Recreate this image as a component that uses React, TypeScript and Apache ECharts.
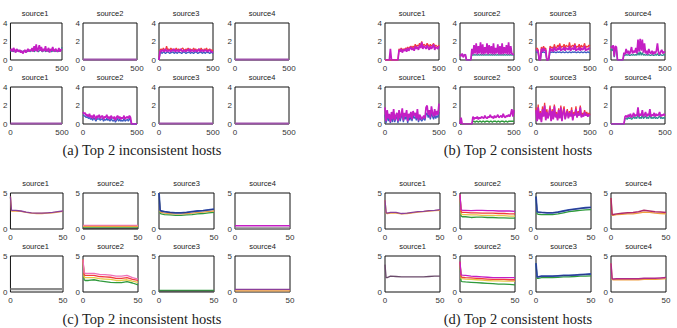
import React, { useEffect, useRef } from "react";
import * as echarts from "echarts";

// ---------- x sample positions ----------
const xs500 = [0, 10, 20, 30, 40, 50, 60, 70, 80, 90, 100, 110, 120, 130, 140, 150, 160, 170, 180, 190, 200, 210, 220, 230, 240, 250, 260, 270, 280, 290, 300, 310, 320, 330, 340, 350, 360, 370, 380, 390, 400, 410, 420, 430, 440, 450, 460, 470, 480, 490, 500];
const xsFlat500 = [0, 500];
const xs50 = [0, 1, 2, 5, 10, 15, 20, 25, 30, 35, 40, 45, 50];
const xsFlat50 = [0, 50];

// ---------- panel (a) ----------
const a1Teal = [0.9,1.0,1.1,0.9,1.0,1.0,0.9,1.1,1.0,0.9,1.0,0.9,0.9,1.0,0.9,1.0,0.9,1.0,1.1,0.9,1.0,1.0,1.1,0.9,1.0,1.1,1.0,0.9,1.0,1.1,1.0,0.9,1.0,1.1,0.9,1.0,1.0,0.9,1.1,1.0,0.9,1.0,1.1,0.9,1.0,1.0,0.9,1.0,1.1,1.0,1.4];
const a1Mag = [1.0,1.2,0.9,1.3,1.1,0.8,1.2,1.0,0.9,1.1,0.8,1.0,0.7,0.9,1.1,0.8,1.0,1.2,0.9,1.1,1.0,1.3,0.9,1.5,1.0,1.7,0.9,1.2,1.6,1.0,1.4,0.9,1.2,1.0,1.5,0.9,1.1,1.3,0.8,1.2,1.0,1.4,0.9,1.1,1.2,0.9,1.0,1.3,0.9,1.1,1.2];
const aFlat = [0.05, 0.05];
const a3Red = [0,1.1,1.2,1.0,1.3,1.1,1.0,1.5,1.1,1.2,1.0,1.3,1.1,1.2,1.0,1.1,1.3,1.0,1.2,1.1,1.0,1.2,1.3,1.1,1.0,1.2,1.1,1.3,1.0,1.2,1.1,1.0,1.3,1.1,1.2,1.0,1.1,1.2,1.0,1.3,1.1,1.0,1.2,1.1,1.3,1.0,1.1,1.2,1.0,1.1,1.0];
const a3Blue = [0,0.8,0.8,0.7,0.9,0.8,0.7,0.8,0.9,0.8,0.7,0.8,0.8,0.9,0.7,0.8,0.8,0.7,0.9,0.8,0.8,0.7,0.8,0.9,0.8,0.7,0.8,0.8,0.9,0.7,0.8,0.8,0.7,0.8,0.9,0.8,0.7,0.8,0.8,0.9,0.7,0.8,0.8,0.7,0.9,0.8,0.8,0.7,0.8,0.8,0.7];
const a3Mag = [0,1.0,0.9,1.1,1.0,0.9,1.2,1.0,0.9,1.1,1.0,0.9,1.1,1.0,1.2,0.9,1.0,1.1,0.9,1.0,1.2,1.0,0.9,1.1,1.0,0.9,1.1,1.0,1.2,0.9,1.0,1.1,0.9,1.0,1.1,0.9,1.0,1.2,0.9,1.0,1.1,0.9,1.0,1.1,1.0,0.9,1.0,1.1,0.9,0.9,0.8];
const a6Blue = [1.0,0.9,0.8,0.7,0.8,0.6,0.7,0.5,0.6,0.4,0.7,0.5,0.3,0.6,0.5,0.6,0.4,0.5,0.6,0.3,0.5,0.4,0.6,0.4,0.5,0.3,0.6,0.4,0.3,0.5,0.2,0.4,0.6,0.3,0.5,0.3,0.4,0.3,0.6,0.3,0.4,0.5,0.3,0.6,0.4,0,0,0,0,0,0];
const a6Mag = [1.3,1.1,1.2,0.9,1.0,0.8,1.1,0.7,0.9,0.6,1.0,0.8,0.5,0.9,0.7,1.0,0.6,0.8,0.9,0.5,0.8,0.7,1.0,0.6,0.8,0.5,0.9,0.7,0.6,0.8,0.4,0.7,0.9,0.6,0.8,0.5,0.7,0.6,0.9,0.5,0.7,0.8,0.6,0.9,0.7,0,0,0,0,0,0];

// ---------- panel (b) ----------
const b1Red = [0,0,0,0,0,0,0,0,0,0,0,0,0,1.2,1.0,1.3,1.1,1.2,1.1,1.3,1.2,1.4,1.2,1.4,1.5,1.3,1.5,1.3,1.7,1.4,1.6,1.5,1.8,1.5,2.0,1.5,1.7,1.6,1.5,1.8,1.6,1.4,1.7,1.5,1.6,1.8,1.4,1.6,1.5,1.4,1.6];
const b1Mag = [0,0,0,0,0,1.2,0,0,0,0,0,0,0,1.1,0.9,1.2,0.8,1.1,1.0,1.2,0.9,1.3,1.0,1.2,1.4,1.1,1.3,1.0,1.5,1.2,1.4,1.1,1.6,1.3,1.9,1.2,1.5,1.4,1.2,1.6,1.3,1.1,1.5,1.2,1.4,1.7,1.1,1.4,1.3,1.2,1.5];
const b2Dark = [0.5,0.6,0.5,0.4,0.6,0.5,0,0,0,0,0,0.6,0.5,0.6,0.5,0.6,0.5,0.6,0.5,0.6,0.5,0.6,0.5,0.6,0.5,0.6,0.5,0.6,0.5,0.6,0.5,0.6,0.5,0.6,0.5,0.6,0.5,0.6,0.5,0.6,0.5,0.6,0.5,0.6,0.5,0.6,0.5,0.6,0.5,0.6,0.5];
const b2Mag = [0.6,0.4,0.7,0.3,0.5,0.6,0,0,0,0,0,1.2,0.6,1.6,0.7,1.8,0.6,1.5,0.7,1.9,0.6,1.7,0.6,1.4,0.7,1.8,0.6,1.6,0.7,1.5,0.6,1.8,0.6,1.3,0.7,1.7,0.6,1.5,0.6,1.8,0.6,1.4,0.7,1.6,0.6,1.9,0.6,1.5,0.7,0.6,0.6];
const b3Red = [1.2,1.3,1.1,0,0,1.4,1.1,1.5,1.2,1.3,0,0,0.3,1.5,1.3,1.4,1.2,1.7,1.3,1.3,1.6,1.4,1.8,1.3,1.5,1.4,1.7,1.3,1.6,1.5,1.4,1.9,1.3,1.5,1.6,1.4,1.8,1.3,1.5,1.4,1.7,1.3,1.6,1.4,1.5,1.8,1.3,1.5,1.4,1.6,1.5];
const b3Blue = [0.8,0.9,0.8,0,0,0.9,0.8,0.9,0.8,0.8,0,0,0.1,0.9,0.8,0.9,0.8,0.9,0.8,0.8,0.9,0.8,0.9,0.8,0.8,0.9,0.8,0.8,0.9,0.8,0.8,0.9,0.8,0.8,0.9,0.8,0.9,0.8,0.8,0.9,0.8,0.8,0.9,0.8,0.8,0.9,0.8,0.8,0.9,0.8,0.8];
const b3Mag = [1.0,1.1,0.9,0,0,1.2,0.9,1.3,1.0,1.1,0,0,0.2,1.3,1.0,1.2,0.9,1.4,1.1,1.0,1.3,1.1,1.5,1.0,1.2,1.1,1.4,1.0,1.3,1.2,1.1,1.5,1.0,1.2,1.3,1.1,1.6,1.0,1.2,1.1,1.4,1.0,1.3,1.1,1.2,1.5,1.0,1.2,1.1,1.3,1.2];
const b4Teal = [1.2,1.0,1.3,0.3,1.2,1.1,0,0,0,0,0,0,0.5,0.5,0.6,0.5,0.6,0.5,0.5,0.6,0.5,0.6,0.5,0.6,0.5,0.8,0.5,0.9,0.5,0.8,0.5,0.6,0.5,0.6,0.5,0.6,0.5,0.5,0.6,0.5,0.5,0.6,0.5,0.7,0.5,0.5,0.6,0.5,0.5,0.6,0.5];
const b4Mag = [1.5,1.3,1.6,0.4,1.5,1.4,0,0,0,0,0,0,0.8,0.6,1.2,0.7,1.0,0.6,0.9,1.4,0.7,1.0,0.8,1.3,0.7,2.2,0.9,2.3,1.0,2.2,0.8,1.8,0.7,1.0,0.6,1.2,0.8,0.7,1.0,0.6,0.9,0.7,1.0,1.8,0.8,0.6,0.9,1.1,0.7,0.9,0.8];
const b5Blue = [1.0,0.1,1.0,0.3,0.8,0.1,0.9,0.2,1.0,0.2,0.6,0.8,0.1,1.0,0.3,0.7,1.1,0.2,0.8,0.5,1.0,0.1,0.8,0.4,0.9,0.3,1.0,0.6,0.8,0.4,1.1,0.2,0.7,0.5,0.3,0.5,0.6,0.4,1.0,1.2,0.7,1.0,0.5,1.2,0.8,0.5,1.0,0.6,0.9,0.7,1.3];
const b5Mag = [1.8,0.3,1.5,0.6,1.1,0.2,1.3,0.5,1.6,0.4,0.9,1.2,0.3,1.5,0.6,1.0,1.7,0.4,1.2,0.8,1.5,0.3,1.1,0.7,1.3,0.5,1.4,0.9,1.2,0.6,1.6,0.4,1.0,0.8,0.5,0.7,0.9,0.6,1.8,2.0,1.0,1.5,0.7,1.9,1.2,0.8,1.6,0.9,1.4,1.0,2.2];
const b6Green = [0,0,0,0,0,0,0,0,0,0,0,0,0.3,0.3,0.2,0.3,0.3,0.2,0.3,0.3,0.2,0.3,0.3,0.2,0.3,0.3,0.3,0.2,0.3,0.3,0.2,0.3,0.3,0.3,0.2,0.3,0.3,0.2,0.3,0.3,0.3,0.2,0.3,0.3,0.2,0.3,0.3,0.3,0.3,0.3,0.3];
const b6Mag = [0,0.7,0,0,0,0,0,0,0,0,0,0,0.8,0.5,0.7,0.6,0.8,0.5,0.7,0.6,0.8,0.7,0.6,0.9,0.7,0.6,0.8,0.7,1.0,0.7,0.8,0.6,0.9,0.7,0.8,1.0,0.7,0.8,0.9,0.7,1.1,0.8,0.7,0.9,0.8,1.0,0.8,1.1,1.6,0.8,1.5];
const b7Red = [1.8,0.4,2.1,0.6,1.4,0.3,1.9,0.9,2.3,0.5,1.6,0.7,1.2,2.0,0.4,1.6,0.6,2.1,0.8,1.3,0.5,1.7,0.7,2.0,0.4,1.4,1.9,0.6,1.2,1.6,0.7,1.4,0.9,1.8,0.5,1.3,1.0,1.9,0.8,1.4,1.0,2.0,0.8,1.2,0.9,1.5,1.0,1.3,0.9,1.2,1.0];
const b7Mag = [1.5,0.3,1.8,0.5,1.2,0.2,1.6,0.8,2.0,0.4,1.3,0.6,1.0,1.7,0.3,1.4,0.5,1.9,0.7,1.1,0.4,1.5,0.6,1.8,0.3,1.2,1.6,0.5,1.0,1.4,0.6,1.2,0.8,1.5,0.4,1.1,0.9,1.6,0.7,1.2,0.9,1.8,0.7,1.0,0.8,1.3,0.9,1.1,0.8,1.0,0.9];
const b8Teal = [0,0,0,0,0,0,0,0,0,0,0,0,0,0.6,0.6,0.5,0.7,0.6,0.7,0.5,0.6,0.8,0.6,0.7,0.6,1.2,0.6,0.7,0.6,1.0,0.6,0.7,0.9,0.6,0.7,0.6,1.1,0.6,0.7,0.6,0.8,0.6,0.7,0.6,0.7,0.9,0.6,0.7,0.6,0.7,0.6];
const b8Mag = [0,0,0,0,0,0,0,0,0,0,0,0,0,0.8,0.9,0.7,1.0,0.8,1.1,0.7,0.9,1.2,0.8,1.0,0.9,1.8,0.8,1.1,0.9,1.5,0.8,1.0,1.3,0.8,1.1,0.9,1.6,0.8,1.0,0.9,1.2,0.8,1.1,0.9,1.0,1.3,0.8,1.0,0.9,1.1,0.9];

// ---------- panel (c) ----------
const c1Orange = [4.5,2.5,2.5,2.5,2.45,2.3,2.2,2.15,2.15,2.2,2.25,2.35,2.45];
const c1Purple = [4.5,2.6,2.6,2.6,2.5,2.35,2.25,2.2,2.2,2.25,2.3,2.4,2.5];
const c2Pink = [0.5, 0.5];
const c2Orange = [0.35, 0.35];
const c2Green = [0.15, 0.15];
const c2Dark = [0.05, 0.05];
const c3Green = [5,2.2,2.1,2.0,1.95,1.9,1.9,1.95,2.0,2.1,2.15,2.25,2.3];
const c3Orange = [5,2.4,2.3,2.2,2.15,2.1,2.1,2.15,2.2,2.3,2.35,2.45,2.5];
const c3Blue = [5,2.6,2.5,2.4,2.3,2.25,2.25,2.3,2.4,2.5,2.55,2.65,2.75];
const c4Mag = [0.45, 0.45];
const c4Gray = [0.15, 0.15];
const c5Gray = [0.4, 0.4];
const c6Pink = [4.5,2.7,2.6,2.6,2.6,2.45,2.4,2.35,2.2,2.2,2.3,2.0,1.8];
const c6Red = [4.5,2.4,2.3,2.3,2.3,2.15,2.1,2.05,1.9,1.9,2.0,1.75,1.6];
const c6Yellow = [4.5,2.1,2.0,2.0,2.0,1.85,1.8,1.75,1.6,1.6,1.7,1.5,1.35];
const c6Green = [4.5,1.7,1.6,1.6,1.7,1.55,1.45,1.35,1.3,1.3,1.45,1.25,1.0];
const c7Green = [0.2, 0.2];
const c7Dark = [0.08, 0.08];
const c8Purple = [0.35, 0.35];
const c8Orange = [0.15, 0.15];

// ---------- panel (d) ----------
const d1Orange = [4.0,2.2,2.15,2.2,2.2,2.1,2.15,2.25,2.35,2.4,2.5,2.55,2.6];
const d1Purple = [4.0,2.3,2.2,2.3,2.3,2.15,2.2,2.3,2.4,2.45,2.55,2.6,2.7];
const d2Pink = [4.8,2.7,2.6,2.6,2.55,2.6,2.6,2.55,2.55,2.5,2.5,2.5,2.45];
const d2Orange = [4.8,2.4,2.3,2.3,2.25,2.25,2.2,2.2,2.2,2.15,2.15,2.1,2.1];
const d2Yellow = [4.8,2.1,2.0,2.0,1.95,1.95,1.9,1.9,1.9,1.85,1.85,1.8,1.8];
const d2Green = [4.8,1.8,1.7,1.7,1.6,1.65,1.65,1.6,1.6,1.55,1.55,1.5,1.5];
const d3Green = [4.5,2.1,2.05,2.0,2.0,2.0,2.1,2.25,2.4,2.5,2.6,2.65,2.7];
const d3Blue = [4.5,2.4,2.35,2.3,2.25,2.25,2.35,2.5,2.65,2.75,2.85,2.95,3.0];
const d4Orange = [4.3,1.9,1.9,2.0,2.05,2.1,2.1,2.2,2.35,2.3,2.2,2.15,2.1];
const d4Mag = [4.3,2.0,2.0,2.1,2.2,2.25,2.3,2.4,2.6,2.5,2.4,2.35,2.3];
const d5Line = [3.8,2.0,2.0,2.2,2.15,2.1,2.1,2.1,2.1,2.1,2.15,2.2,2.2];
const d6Pink = [4.2,2.4,2.35,2.3,2.2,2.15,2.1,2.05,2.0,2.0,2.0,2.0,2.0];
const d6Orange = [4.2,2.1,2.05,2.0,1.95,1.9,1.85,1.8,1.75,1.75,1.75,1.7,1.7];
const d6Yellow = [4.2,1.9,1.85,1.8,1.75,1.7,1.65,1.6,1.55,1.55,1.5,1.5,1.5];
const d6Green = [4.2,1.5,1.45,1.4,1.35,1.3,1.25,1.2,1.15,1.1,1.1,1.05,1.0];
const d7Green = [4.0,1.9,1.9,2.0,2.0,2.0,2.05,2.1,2.1,2.15,2.2,2.2,2.25];
const d7Blue = [4.0,2.1,2.1,2.2,2.2,2.2,2.25,2.3,2.3,2.35,2.4,2.45,2.5];
const d8Orange = [4.0,1.75,1.7,1.7,1.7,1.7,1.7,1.7,1.75,1.75,1.75,1.8,1.85];
const d8Mag = [4.0,1.9,1.8,1.85,1.85,1.85,1.85,1.85,1.9,1.9,1.9,1.95,2.0];

// ---------- labels ----------
const titles = ["source1", "source2", "source3", "source4"];
const captions = ["(a) Top 2 inconsistent hosts", "(b) Top 2 consistent hosts", "(c) Top 2 inconsistent hosts", "(d) Top 2 consistent hosts"];
const ticks500 = [0, 500];
const ticks50 = [0, 50];
const ticksY4 = [0, 2, 4];
const ticksY5 = [0, 5];

// ---------- colours ----------
const MAG = "#c41ec4";
const RED = "#f23c3c";
const TEAL = "#2c8c8c";
const BLUE = "#3a5cc0";
const NAVY = "#24307a";
const GREEN = "#2f9a3c";
const ORANGE = "#f0a040";
const YELLOW = "#e6c845";
const PINK = "#ee6fb8";
const FLATP = "#9c52a8";
const GRAY = "#8c8c8c";
const PURPLE = "#8a3f9a";

type S = { x: number[]; y: number[]; c: string; w?: number };
type P = { panel: number; row: number; col: number; series: S[] };

const n = (y: number[], c: string, w = 1.3): S => ({ x: xs500, y, c, w });
const m = (y: number[]): S => ({ x: xs500, y, c: MAG, w: 1.7 });
const f5 = (y: number[], c: string, w = 2): S => ({ x: xsFlat500, y, c, w });
const s50 = (y: number[], c: string, w = 1.3): S => ({ x: xs50, y, c, w });
const f50 = (y: number[], c: string, w = 1.4): S => ({ x: xsFlat50, y, c, w });

const plots: P[] = [
  { panel: 0, row: 0, col: 0, series: [n(a1Teal, TEAL), m(a1Mag)] },
  { panel: 0, row: 0, col: 1, series: [f5(aFlat, FLATP)] },
  { panel: 0, row: 0, col: 2, series: [n(a3Red, RED), n(a3Blue, BLUE), m(a3Mag)] },
  { panel: 0, row: 0, col: 3, series: [f5(aFlat, FLATP)] },
  { panel: 0, row: 1, col: 0, series: [f5(aFlat, FLATP)] },
  { panel: 0, row: 1, col: 1, series: [n(a6Blue, BLUE), m(a6Mag)] },
  { panel: 0, row: 1, col: 2, series: [f5(aFlat, FLATP)] },
  { panel: 0, row: 1, col: 3, series: [f5(aFlat, FLATP)] },

  { panel: 1, row: 0, col: 0, series: [n(b1Red, RED), m(b1Mag)] },
  { panel: 1, row: 0, col: 1, series: [n(b2Dark, TEAL), m(b2Mag)] },
  { panel: 1, row: 0, col: 2, series: [n(b3Red, RED), n(b3Blue, BLUE), m(b3Mag)] },
  { panel: 1, row: 0, col: 3, series: [n(b4Teal, TEAL), m(b4Mag)] },
  { panel: 1, row: 1, col: 0, series: [n(b5Blue, BLUE), m(b5Mag)] },
  { panel: 1, row: 1, col: 1, series: [n(b6Green, GREEN), m(b6Mag)] },
  { panel: 1, row: 1, col: 2, series: [n(b7Red, RED), m(b7Mag)] },
  { panel: 1, row: 1, col: 3, series: [n(b8Teal, TEAL), m(b8Mag)] },

  { panel: 2, row: 0, col: 0, series: [s50(c1Orange, ORANGE), s50(c1Purple, PURPLE)] },
  { panel: 2, row: 0, col: 1, series: [f50(c2Pink, PINK), f50(c2Orange, ORANGE), f50(c2Green, GREEN), f50(c2Dark, "#444")] },
  { panel: 2, row: 0, col: 2, series: [s50(c3Green, GREEN), s50(c3Orange, ORANGE), s50(c3Blue, BLUE, 1.8), s50(c3Blue, NAVY, 0.8)] },
  { panel: 2, row: 0, col: 3, series: [f50(c4Mag, MAG), f50(c4Gray, GRAY)] },
  { panel: 2, row: 1, col: 0, series: [f50(c5Gray, GRAY, 2.2)] },
  { panel: 2, row: 1, col: 1, series: [s50(c6Green, GREEN), s50(c6Yellow, YELLOW), s50(c6Red, RED), s50(c6Pink, PINK)] },
  { panel: 2, row: 1, col: 2, series: [f50(c7Green, GREEN), f50(c7Dark, "#555")] },
  { panel: 2, row: 1, col: 3, series: [f50(c8Purple, PURPLE), f50(c8Orange, ORANGE)] },

  { panel: 3, row: 0, col: 0, series: [s50(d1Orange, ORANGE), s50(d1Purple, PURPLE)] },
  { panel: 3, row: 0, col: 1, series: [s50(d2Green, GREEN), s50(d2Yellow, YELLOW), s50(d2Orange, RED), s50(d2Pink, MAG)] },
  { panel: 3, row: 0, col: 2, series: [s50(d3Green, GREEN), s50(d3Blue, BLUE, 1.8), s50(d3Blue, NAVY, 0.8)] },
  { panel: 3, row: 0, col: 3, series: [s50(d4Orange, ORANGE), s50(d4Mag, "#b02a6a", 1.5)] },
  { panel: 3, row: 1, col: 0, series: [s50(d5Line, "#6a4a6a")] },
  { panel: 3, row: 1, col: 1, series: [s50(d6Green, GREEN), s50(d6Yellow, YELLOW), s50(d6Orange, RED), s50(d6Pink, MAG)] },
  { panel: 3, row: 1, col: 2, series: [s50(d7Green, GREEN), s50(d7Blue, BLUE, 1.8), s50(d7Blue, NAVY, 0.8)] },
  { panel: 3, row: 1, col: 3, series: [s50(d8Orange, ORANGE), s50(d8Mag, "#b02a8a", 1.5)] },
];

// ---------- layout ----------
const colLefts = [[8, 83, 159, 235], [385, 460, 536, 611], [8, 83, 159, 235], [385, 460, 536, 611]];
const boxW = [54, 54, 55, 55];
const rowTops = [[23, 87], [23, 87], [193, 256], [193, 256]];
const boxH = [37, 37, 36, 36];
const captionPos = [[142, 150], [518, 150], [142, 319], [518, 319]];

function buildOption() {
  const grid: any[] = [];
  const xAxis: any[] = [];
  const yAxis: any[] = [];
  const series: any[] = [];
  const graphic: any[] = [];
  const font = "'Liberation Sans', Arial, sans-serif";

  plots.forEach((p, gi) => {
    const left = colLefts[p.panel][p.col];
    const top = rowTops[p.panel][p.row];
    const w = boxW[p.panel];
    const h = boxH[p.panel];
    const small = p.panel < 2;
    const xt = small ? ticks500 : ticks50;
    const yt = small ? ticksY4 : ticksY5;
    grid.push({ left, top, width: w, height: h, show: true, borderColor: "#111", borderWidth: 1, backgroundColor: "#fff" });
    xAxis.push({
      type: "value", gridIndex: gi, min: xt[0], max: xt[xt.length - 1], interval: xt[1] - xt[0],
      axisLine: { show: false }, axisTick: { show: false }, splitLine: { show: false },
      axisLabel: { fontSize: 8, color: "#333", margin: 4, fontFamily: font, showMinLabel: true, showMaxLabel: true },
    });
    yAxis.push({
      type: "value", gridIndex: gi, min: yt[0], max: yt[yt.length - 1], interval: yt[1] - yt[0],
      axisLine: { show: false }, axisTick: { show: false }, splitLine: { show: false },
      axisLabel: { fontSize: 8, color: "#333", margin: 3, fontFamily: font, showMinLabel: true, showMaxLabel: true },
    });
    p.series.forEach((s) => {
      series.push({
        type: "line", xAxisIndex: gi, yAxisIndex: gi, symbol: "none", silent: true,
        data: s.x.map((x, i) => [x, s.y[i]]),
        lineStyle: { color: s.c, width: s.w ?? 1.3 },
        itemStyle: { color: s.c },
      });
    });
    graphic.push({
      type: "text", x: left + w / 2, y: top - 10,
      style: { text: titles[p.col], fontSize: 7.5, fill: "#1a1a1a", fontFamily: font, textAlign: "center", textVerticalAlign: "middle" },
    });
  });

  captions.forEach((c, i) => {
    graphic.push({
      type: "text", x: captionPos[i][0], y: captionPos[i][1],
      style: { text: c, fontSize: 14.5, fill: "#222", fontFamily: "'Liberation Serif', 'DejaVu Serif', serif", textAlign: "center", textVerticalAlign: "middle" },
    });
  });

  return { animation: false, backgroundColor: "#fff", grid, xAxis, yAxis, series, graphic };
}

export default function App() {
  const ref = useRef<HTMLDivElement>(null);
  useEffect(() => {
    if (!ref.current) return;
    const chart = echarts.init(ref.current, undefined, { renderer: "svg" });
    chart.setOption(buildOption());
    return () => chart.dispose();
  }, []);
  return <div ref={ref} style={{ position: "fixed", left: 0, top: 0, width: 677, height: 328, background: "#fff" }} />;
}
